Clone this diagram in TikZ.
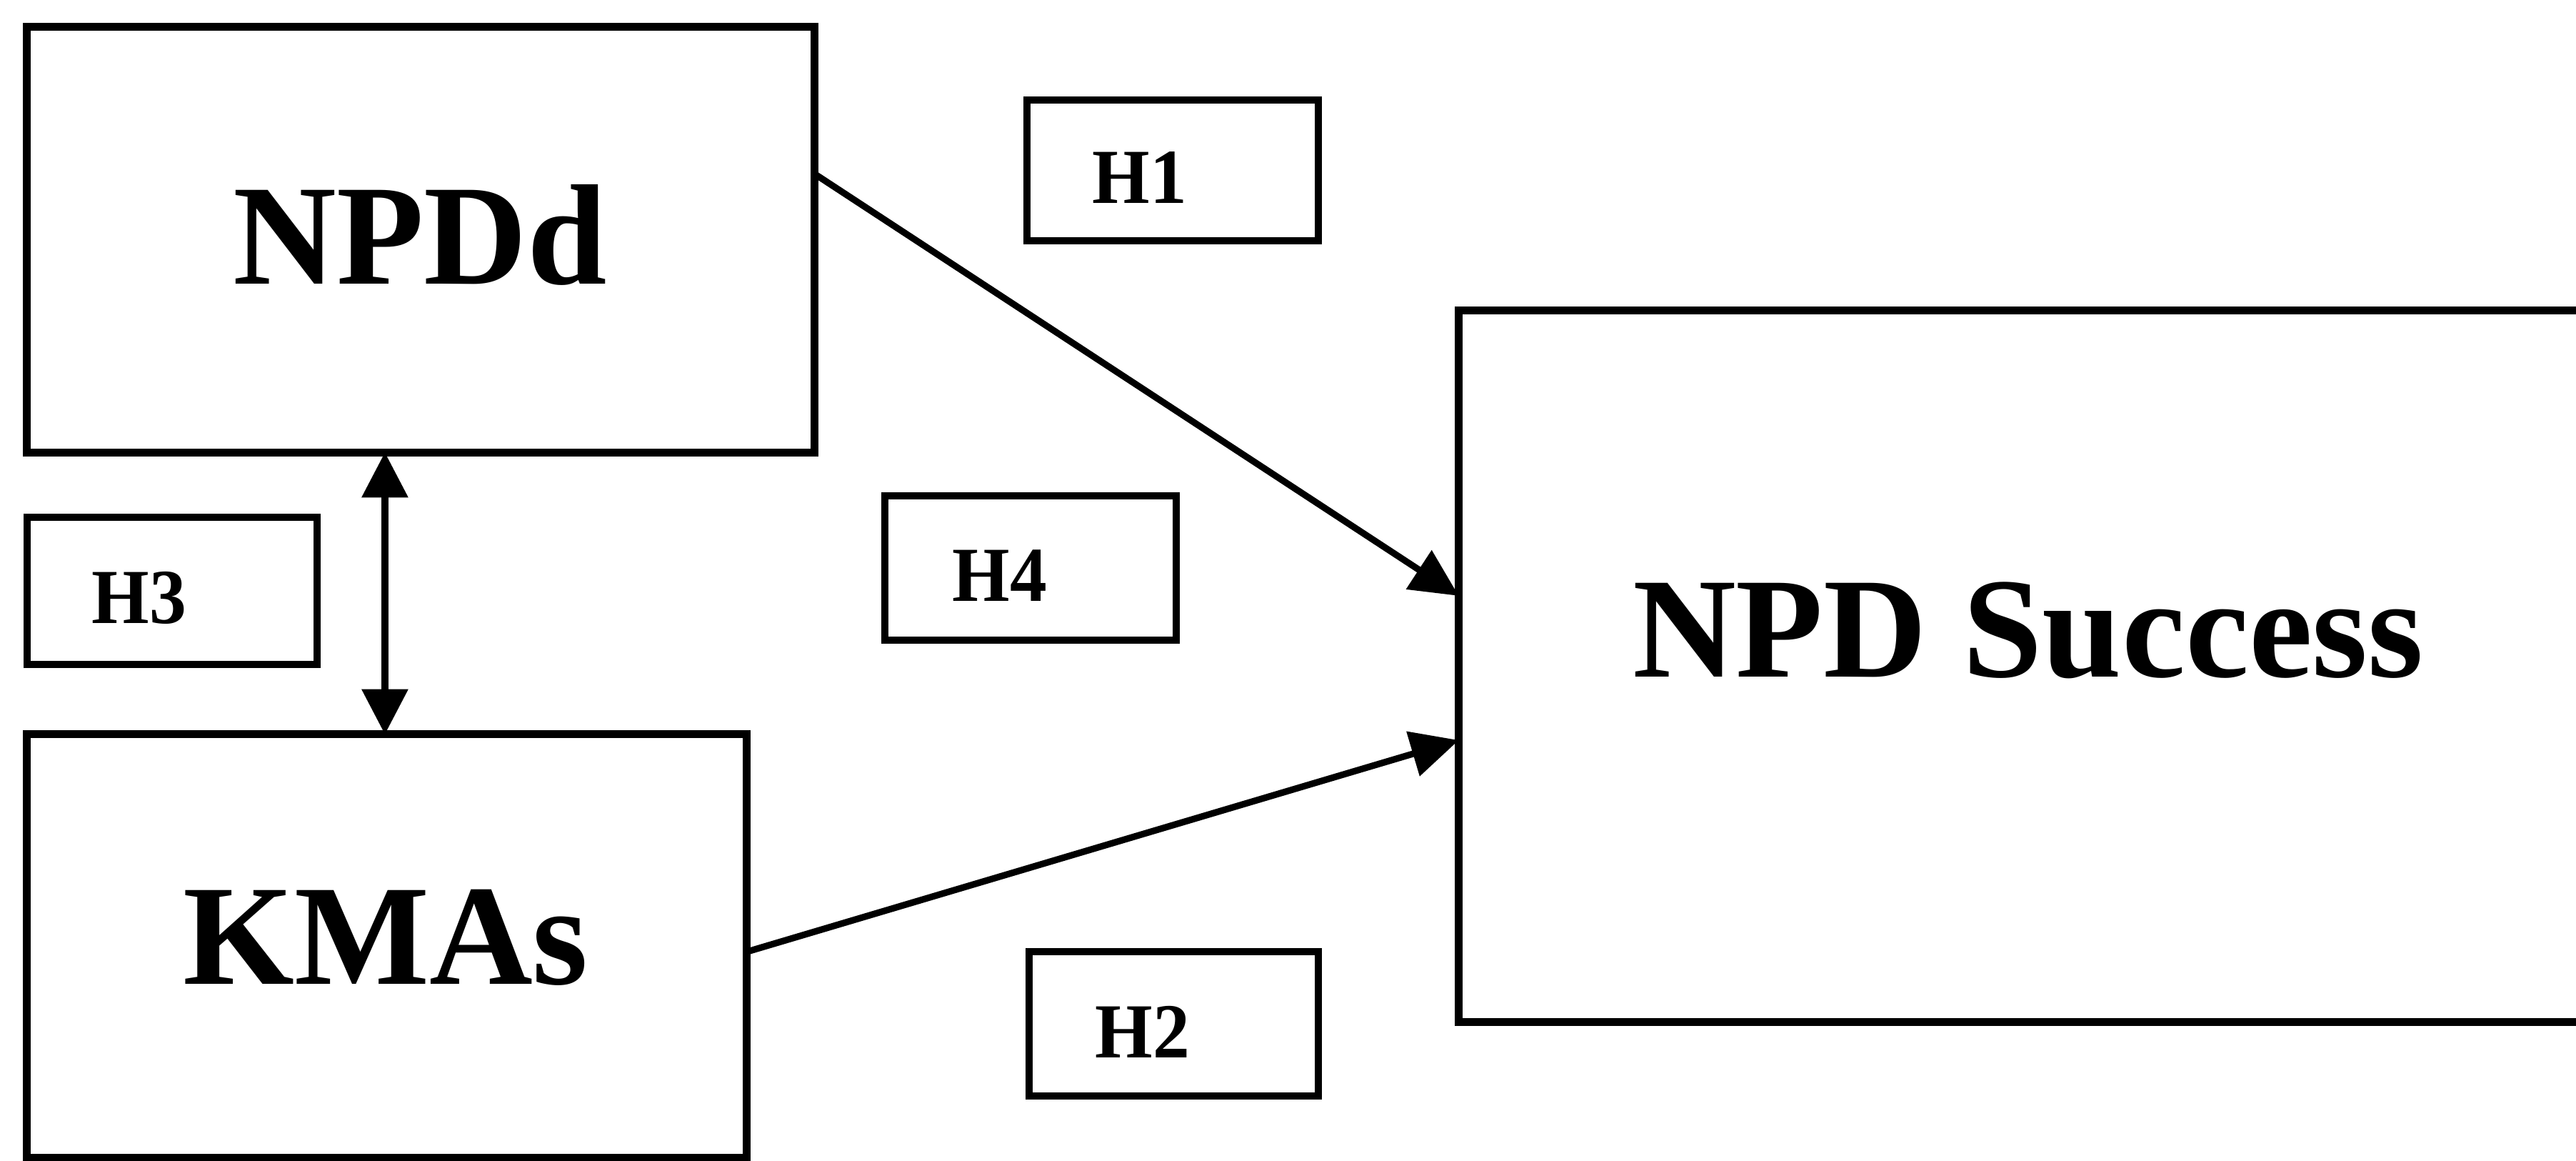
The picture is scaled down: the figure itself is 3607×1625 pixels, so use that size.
\documentclass[tikz,border=0pt]{standalone}
\usepackage{fontspec}
\setmainfont{Liberation Serif}
\usetikzlibrary{arrows.meta,calc}
\begin{document}
\begin{tikzpicture}[x=0.01cm,y=-0.01cm,
  block/.style={draw,line width=3.1pt,inner sep=0pt,outer sep=0pt},
  hbox/.style={draw,line width=3pt,inner sep=0pt,outer sep=0pt},
  bigtext/.style={inner sep=0pt,font=\fontsize{57}{60}\selectfont\bfseries},
  htext/.style={inner sep=0pt,font=\fontsize{31}{34}\selectfont\bfseries,xscale=0.95},
  link/.style={line width=2.6pt,-{Triangle[length=19pt,width=18pt]}},
  both/.style={line width=2.6pt,{Triangle[length=18pt,width=18pt]}-{Triangle[length=18pt,width=18pt]}}]
\useasboundingbox (0,0) rectangle (3607,1625);
\clip (0,0) rectangle (3607,1625);

% construct boxes
\node[block,minimum width=11.02cm,minimum height=5.95cm] (npdd) at (589,335.5) {};
\node[block,minimum width=10.07cm,minimum height=5.92cm] (kmas) at (541.5,1324) {};
\node[block,minimum width=16.07cm,minimum height=9.95cm] (succ) at (2846.5,932.5) {};

\node[bigtext] (npddtext) at (588,329) {NPDd};
\node[bigtext] (kmastext) at (540,1312) {KMAs};
\node[bigtext] (succtext) at (2840,882) {NPD Success};

% hypothesis labels
\node[hbox,minimum width=4.08cm,minimum height=1.97cm] (h1box) at (1642,238.5) {};
\node[hbox,minimum width=4.08cm,minimum height=2.02cm] (h4box) at (1443,795) {};
\node[hbox,minimum width=4.05cm,minimum height=2.02cm] (h2box) at (1643.5,1433) {};
\node[hbox,minimum width=4.06cm,minimum height=2.06cm] (h3box) at (241,827) {};

\node[htext] (h1) at (1596,249) {H1};
\node[htext] (h4) at (1400,806) {H4};
\node[htext] (h2) at (1600,1444) {H2};
\node[htext] (h3) at (195,837) {H3};

% paths
\coordinate (a1) at ($(npdd.north east)!0.345!(npdd.south east)$);
\coordinate (b1) at ($(succ.north west)!0.401!(succ.south west)$);
\coordinate (a2) at ($(kmas.north east)!0.514!(kmas.south east)$);
\coordinate (b2) at ($(succ.north west)!0.604!(succ.south west)$);
\coordinate (c1) at ($(npdd.south west)!0.4546!(npdd.south east)$);
\coordinate (c2) at (c1 |- kmas.north);

\draw[link] (a1) -- (b1);
\draw[link] (a2) -- (b2);
\draw[both] (c1) -- (c2);
\end{tikzpicture}
\end{document}
